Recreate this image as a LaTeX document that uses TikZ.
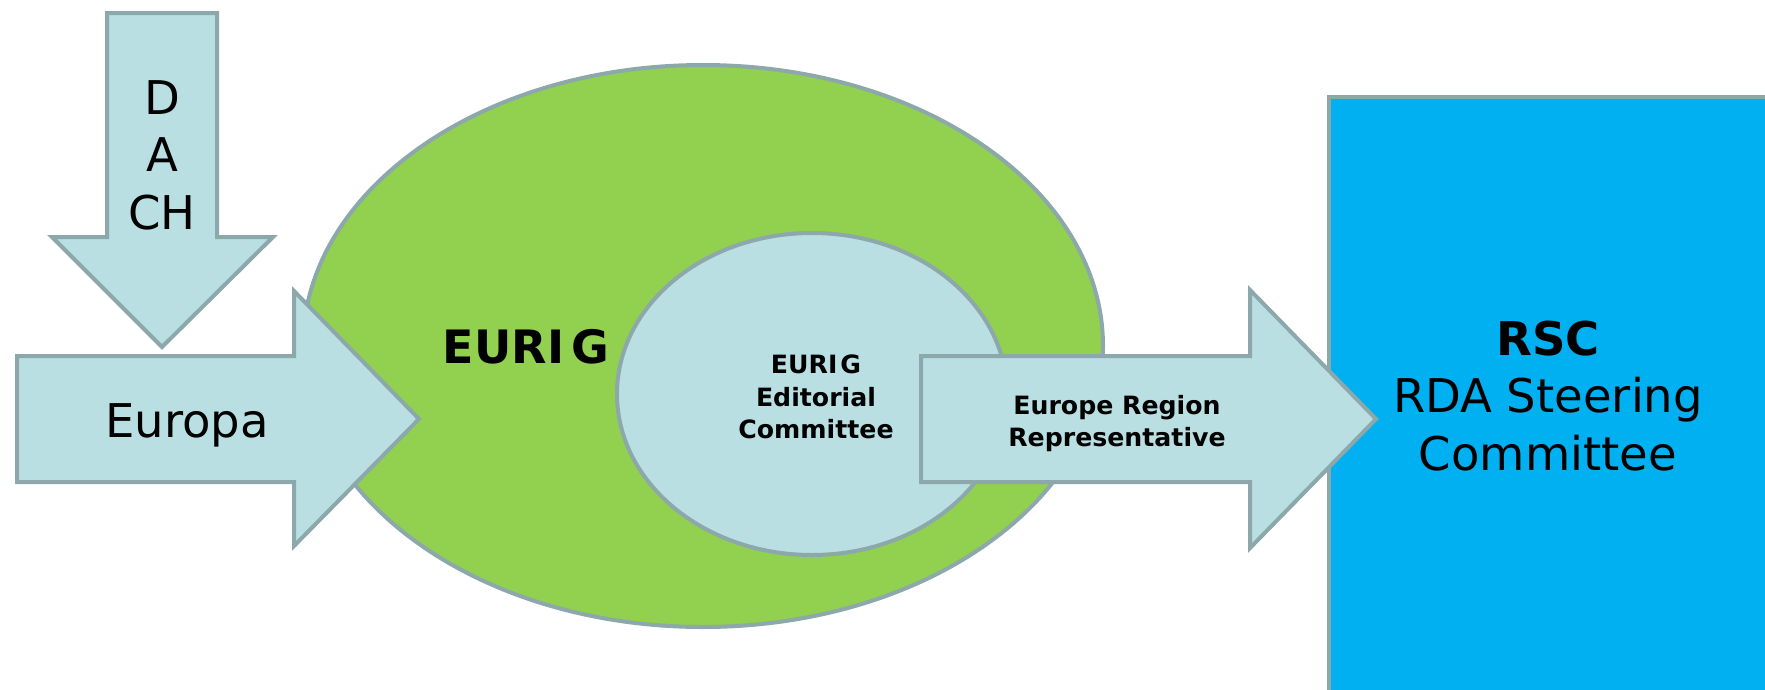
\documentclass[tikz,border=0pt]{standalone}
\usepackage{fontspec}
\setmainfont{DejaVu Sans}
\usetikzlibrary{shapes.geometric}
\definecolor{boxfill}{HTML}{B9DFE3}
\definecolor{boxline}{HTML}{8CA8AA}
\definecolor{eurigfill}{HTML}{92D050}
\definecolor{rscfill}{HTML}{00B0F0}
\tikzset{
  blockarrow/.style={fill=boxfill, draw=boxline, line width=4pt, line join=miter},
  bigtext/.style={font=\fontsize{46.5}{57.5}\selectfont, inner sep=0pt, align=center},
  smalltext/.style={font=\bfseries\fontsize{25.2}{32.5}\selectfont, inner sep=0pt, align=center},
}
\begin{document}
\begin{tikzpicture}[x=1pt, y=-1pt]
    \useasboundingbox (0,0) rectangle (1765,689);
    % DACH arrow
    \draw[blockarrow] (107,13) -- (217,13) -- (217,237) -- (273,237) -- (162,347)
        -- (52,237) -- (107,237) -- cycle;
    \node[bigtext, anchor=north] (dach) at (162,80) {D\\A\\CH};
    % EURIG
    \node[ellipse, draw=boxline, fill=eurigfill, line width=4pt, inner sep=0pt,
          minimum width=800pt, minimum height=562pt] (eurig) at (703,346) {};
    % Europa arrow
    \draw[blockarrow] (17,356) -- (294,356) -- (294,291) -- (419,419) -- (294,546)
        -- (294,482) -- (17,482) -- cycle;
    \node[bigtext, anchor=base] (europa) at (187,437) {Europa};
    \node[bigtext, font=\bfseries\fontsize{46}{55}\selectfont, anchor=base] (eurigtext)
        at (526,363) {EURI\kern7pt G};
    \node[ellipse, draw=boxline, fill=boxfill, line width=4pt, inner sep=0pt,
          minimum width=390pt, minimum height=322pt] (editorial) at (812,394) {};
    \node[smalltext, anchor=north] (editorialtext) at (816,355)
        {EURI\kern3pt G\\Editorial\\Committee};
    % RSC
    \node[rectangle, draw=boxline, fill=rscfill, line width=4pt, bigtext,
          minimum width=438pt, minimum height=598pt] (rsc) at (1548,396)
        {\textbf{RSC}\\RDA Steering\\Committee};
    % representative arrow
    \draw[blockarrow] (921,356) -- (1250,356) -- (1250,290) -- (1376,419) -- (1250,548)
        -- (1250,482) -- (921,482) -- cycle;
    \node[smalltext, anchor=north] (rep) at (1117,395) {Europe Region\\Representative};
\end{tikzpicture}
\end{document}
